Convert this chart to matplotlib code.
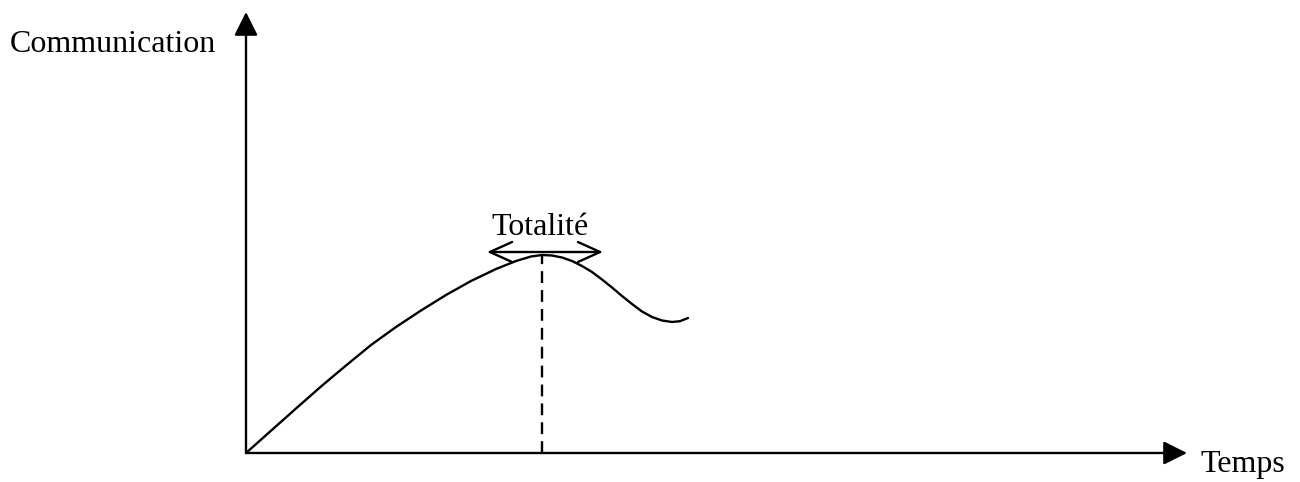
import matplotlib
matplotlib.use("Agg")
import matplotlib.pyplot as plt

# curve (time, communication), origin at the axes corner
temps = [0, 50, 75, 100, 125, 150, 175, 200, 225, 250, 270, 285, 296,
         306, 316, 326, 336, 346, 356, 366, 376, 386, 396, 406, 416,
         426, 434, 442]
comm = [0, 44.5, 66.5, 87.5, 108, 126, 142.5, 158, 172, 184, 192, 196.5, 198,
        197.5, 195.5, 192, 187, 181, 173.5, 165.5, 157, 149, 141.5, 136,
        132.5, 131, 131.8, 135]

peak_t = 296
peak_c = 198
totalite_span = (241, 357)
totalite_level = 201
x_end = 941
y_end = 441

fig = plt.figure(figsize=(13, 4.82), dpi=100)
ax = fig.add_axes([0, 0, 1, 1])
ax.set_xlim(-246, 1054)
ax.set_ylim(-29, 453)
ax.axis("off")

plt.rcParams["font.family"] = ["Liberation Serif", "DejaVu Serif"]

lw = 1.7

# axes with filled arrow heads
axis_style = dict(arrowstyle="-|>,head_length=14.4,head_width=7.2",
                  color="black", lw=lw, shrinkA=0, shrinkB=0,
                  mutation_scale=1)
ax.annotate("", xy=(0, y_end), xytext=(0, 0), arrowprops=axis_style)
ax.annotate("", xy=(x_end, 0), xytext=(0, 0), arrowprops=axis_style)

ax.plot(temps, comm, color="black", lw=lw, solid_capstyle="round",
        solid_joinstyle="round")

# dashed line under the peak
ax.plot([peak_t, peak_t], [0, peak_c], color="black", lw=lw,
        dashes=(5, 3))

# double open arrow for "Totalité"
ax.annotate("", xy=(totalite_span[1], totalite_level),
            xytext=(totalite_span[0], totalite_level),
            arrowprops=dict(arrowstyle="<->,head_length=16,head_width=7.2",
                            color="black", lw=lw, shrinkA=0, shrinkB=0,
                            mutation_scale=1))

fs = 23
ax.text(-236, 401, "Communication", fontsize=fs, ha="left", va="baseline")
ax.text(294, 218, "Totalité", fontsize=fs, ha="center", va="baseline")
ax.text(954, -19, "Temps", fontsize=fs, ha="left", va="baseline")

fig.savefig("out.png", dpi=100, facecolor="white")
